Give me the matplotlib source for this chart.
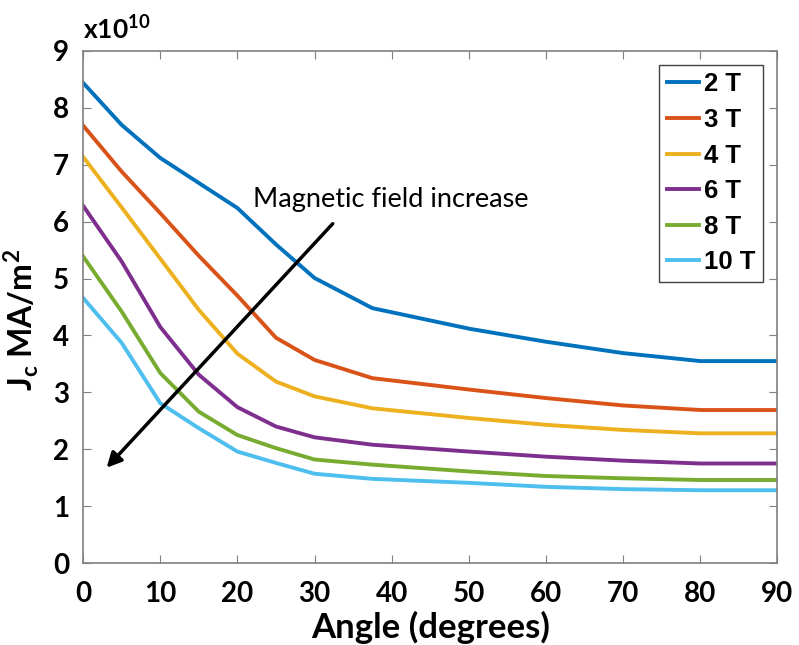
import matplotlib
matplotlib.use("Agg")
import matplotlib.pyplot as plt

# angle (degrees) and Jc (x1e10 A/m^2)
angle = [0, 5, 10, 15, 20, 25, 30, 37.5, 50, 60, 70, 80, 90]
jc_2T = [8.44, 7.70, 7.12, 6.68, 6.24, 5.60, 5.01, 4.48, 4.12, 3.89, 3.69, 3.55, 3.55]
jc_3T = [7.69, 6.88, 6.15, 5.40, 4.70, 3.96, 3.57, 3.25, 3.05, 2.90, 2.77, 2.69, 2.69]
jc_4T = [7.14, 6.25, 5.35, 4.45, 3.68, 3.19, 2.93, 2.72, 2.55, 2.43, 2.34, 2.28, 2.28]
jc_6T = [6.28, 5.30, 4.15, 3.31, 2.74, 2.40, 2.21, 2.08, 1.96, 1.87, 1.80, 1.75, 1.75]
jc_8T = [5.39, 4.42, 3.34, 2.66, 2.25, 2.02, 1.82, 1.73, 1.61, 1.53, 1.49, 1.46, 1.46]
jc_10T = [4.66, 3.87, 2.81, 2.37, 1.96, 1.76, 1.57, 1.48, 1.41, 1.34, 1.30, 1.28, 1.28]

labels = ['2 T', '3 T', '4 T', '6 T', '8 T', '10 T']
colors = ['#0072BD', '#D95319', '#EDB120', '#7E2F8E', '#77AC30', '#4DBEEE']
series = [jc_2T, jc_3T, jc_4T, jc_6T, jc_8T, jc_10T]

plt.rcParams['mathtext.fontset'] = 'custom'
plt.rcParams['mathtext.bf'] = 'Lato:bold'
plt.rcParams['mathtext.rm'] = 'Lato:bold'

fig = plt.figure(figsize=(7.99, 6.45), dpi=100)
ax = fig.add_axes([0.104, 0.127, 0.869, 0.794])

for y, lab, c in zip(series, labels, colors):
    ax.plot(angle, y, color=c, lw=2.8, label=lab)

ax.set_xlim(0, 90)
ax.set_ylim(0, 9)
ax.set_xticks(range(0, 91, 10))
ax.set_yticks(range(0, 10))
ax.tick_params(direction='in', top=True, right=True, length=6, color='#808080',
               labelsize=20)
ax.tick_params(axis='x', pad=13)
ax.tick_params(axis='y', pad=10)
for lbl in ax.get_xticklabels() + ax.get_yticklabels():
    lbl.set_fontfamily('Lato')
    lbl.set_fontweight('bold')
for s in ax.spines.values():
    s.set_color('#808080')
    s.set_linewidth(1.2)

ax.set_xlabel('Angle (degrees)', fontsize=25, fontweight='bold', family='Lato', va='top')
ax.xaxis.set_label_coords(0.5, -0.093)
ax.set_ylabel(r'J$_\mathbf{c}$ MA/m$^\mathbf{2}$', fontsize=23, fontweight='bold',
              family='Lato')
ax.yaxis.set_label_coords(-0.06, 0.475)
fig.text(0.104, 0.955, r'x10$^{10}$', fontsize=19, fontweight='bold', family='Lato',
         ha='left', va='center')

ax.annotate('', xy=(2.8, 1.64), xytext=(32.6, 6.0),
            arrowprops=dict(arrowstyle='-|>', color='black', lw=2.5, mutation_scale=22))
ax.text(22.0, 6.39, 'Magnetic field increase', fontsize=19.5, family='Lato', va='center')

leg = ax.legend(loc='upper right', bbox_to_anchor=(0.979, 0.973),
                prop={'family': 'Liberation Sans', 'weight': 'bold', 'size': 18.5},
                handlelength=1.25, handletextpad=0.2, labelspacing=0.45,
                borderpad=0.3, borderaxespad=0, fancybox=False, framealpha=1)
leg.get_frame().set_edgecolor('#404040')

fig.savefig('out.png', dpi=100)
